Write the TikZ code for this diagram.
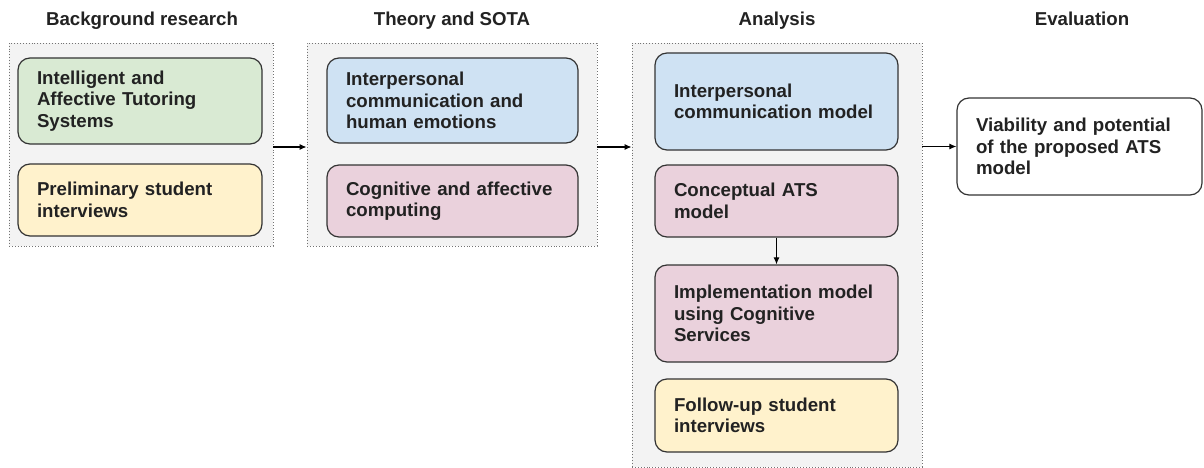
\documentclass[tikz,border=0pt]{standalone}
\usepackage{fontspec}
\setmainfont{Liberation Sans}
\usetikzlibrary{arrows.meta}
\definecolor{cgreen}{HTML}{D9EAD3}
\definecolor{cyellow}{HTML}{FFF2CC}
\definecolor{cblue}{HTML}{CFE2F3}
\definecolor{cpink}{HTML}{EAD1DC}
\definecolor{cgroup}{HTML}{F3F3F3}
\definecolor{cborder}{HTML}{333333}
\definecolor{ctext}{HTML}{222222}
\begin{document}
\begin{tikzpicture}[x=1pt,y=-1pt,
  every node/.style={font=\fontsize{18.67}{21.5}\selectfont\bfseries, text=ctext},
  grp/.style={draw=black!55, dotted, line width=0.9pt, fill=cgroup, rectangle, inner sep=0pt},
  box/.style={draw=cborder, line width=1.2pt, rounded corners=12pt, align=left,
    inner xsep=19pt, inner ysep=0pt},
  title/.style={anchor=base},
  arr/.style={draw=black, line width=1.1pt, -{Latex[length=7pt,width=6pt]}}
]
\useasboundingbox (0,0) rectangle (1204,468);

% titles
\node[title] (t1) at (142,26) {Background research};
\node[title] (t2) at (452,26) {Theory and SOTA};
\node[title] (t3) at (777,26) {Analysis};
\node[title] (t4) at (1082,26) {Evaluation};

% groups
\node[grp, minimum width=264pt, minimum height=203pt] (g1) at (141,144.5) {};
\node[grp, minimum width=290pt, minimum height=203pt] (g2) at (452,144.5) {};
\node[grp, minimum width=290pt, minimum height=424pt] (g3) at (777,255) {};

% group 1
\node[box, fill=cgreen, text width=206pt, minimum height=86pt] (b1) at (140,101)
  {Intelligent and\\Affective Tutoring\\Systems};
\node[box, fill=cyellow, text width=206pt, minimum height=72pt] (b2) at (140,200)
  {Preliminary student\\interviews};

% group 2
\node[box, fill=cblue, text width=213pt, minimum height=85pt] (b3) at (452.5,100.5)
  {Interpersonal\\communication and\\human emotions};
\node[box, fill=cpink, text width=213pt, minimum height=72pt] (b4) at (452.5,201)
  {Cognitive and affective\\computing};

% group 3
\node[box, fill=cblue, text width=205pt, minimum height=97pt] (b5) at (776.5,101.5)
  {Interpersonal\\communication model};
\node[box, fill=cpink, text width=205pt, minimum height=72pt] (b6) at (776.5,201)
  {Conceptual ATS\\model};
\node[box, fill=cpink, text width=205pt, minimum height=97pt] (b7) at (776.5,313.5)
  {Implementation model\\using Cognitive\\Services};
\node[box, fill=cyellow, text width=205pt, minimum height=73pt] (b8) at (776.5,415.5)
  {Follow-up student\\interviews};

% evaluation
\node[box, fill=white, text width=207pt, minimum height=97pt] (b9) at (1079.5,146.5)
  {Viability and potential\\of the proposed ATS\\model};

% connectors
\draw[arr] ([yshift=-2.5pt]g1.east) -- ([yshift=-2.5pt]g2.west);
\draw[arr] ([yshift=-2.5pt]g2.east) -- ([yshift=-2.5pt]g2.east -| g3.west);
\draw[arr] (g3.east |- b9.west) -- (b9.west);
\draw[arr] (b6.south) -- (b7.north);
\end{tikzpicture}
\end{document}
